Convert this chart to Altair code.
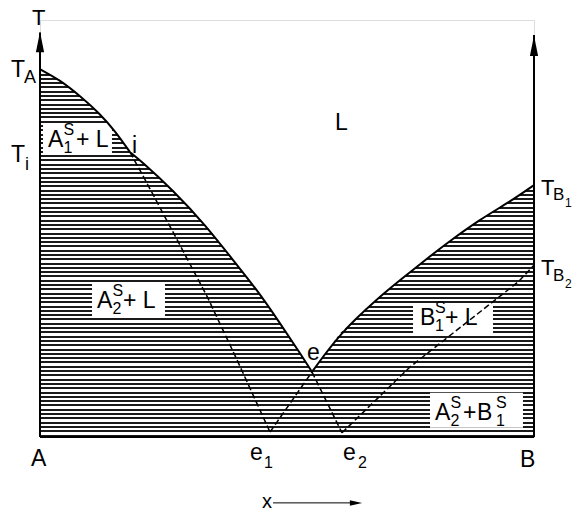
import altair as alt
import pandas as pd

# ---- phase-diagram data (x = mole fraction of B, T = temperature, arbitrary units) ----
# stable liquidus, three branches: T_A -> i (A1), i -> e (A2), e -> T_B1 (B1)
liq_seg = ["A1"] * 6 + ["A2"] * 9 + ["B1"] * 9
liq_x = [0.0, 0.0405, 0.081, 0.1215, 0.1518, 0.1822,
         0.1822, 0.2024, 0.2692, 0.3381, 0.3907, 0.4393, 0.4858, 0.5263, 0.5506,
         0.5506, 0.6073, 0.6842, 0.7287, 0.7955, 0.8239, 0.8907, 0.9514, 1.0]
liq_T = [88.2, 85.6, 81.8, 77.5, 73.4, 68.3,
         68.3, 66.4, 59.2, 50.4, 42.4, 35.3, 27.3, 20.1, 15.6,
         15.6, 24.9, 33.3, 37.6, 43.9, 46.5, 52.2, 56.4, 60.4]

# metastable branches (dashed)
meta_seg = ["i-e1"] * 6 + ["e1-e"] * 2 + ["e-e2"] * 2 + ["e2-TB2"] * 4
meta_x = [0.1822, 0.2132, 0.2780, 0.3387, 0.3988, 0.4656,
          0.4656, 0.5506,
          0.5506, 0.6113,
          0.6113, 0.7490, 0.9680, 1.0]
meta_T = [68.3, 61.6, 47.2, 33.6, 18.5, 1.2,
          1.2, 15.6,
          15.6, 1.0,
          1.0, 16.8, 37.2, 41.2]

# label pieces: text, x, T (baseline), font size
lab_text = ["A", "S", "1", "+ L",
            "A", "S", "2", "+ L",
            "B", "S", "1", "+ L",
            "A", "S", "2", "+", "B", "S", "1",
            "L", "e", "i",
            "e", "1", "e", "2",
            "T", "A", "T", "i", "T",
            "A", "B",
            "T", "B", "1", "T", "B", "2",
            "x"]
lab_x = [0.0162, 0.0476, 0.0476, 0.0729,
         0.1154, 0.1468, 0.1468, 0.1680,
         0.7692, 0.7997, 0.7997, 0.8198,
         0.7996, 0.8310, 0.8310, 0.8563, 0.8846, 0.9231, 0.9231,
         0.5972, 0.5405, 0.1862,
         0.4251, 0.4534, 0.6134, 0.6437,
         -0.0587, -0.0324, -0.0587, -0.0303, -0.0162,
         -0.0182, 0.9717,
         1.0142, 1.0385, 1.0628, 1.0142, 1.0385, 1.0628,
         0.4494]
lab_T = [69.5, 72.4, 68.1, 69.5,
         30.9, 33.8, 29.5, 30.9,
         26.9, 29.7, 25.4, 26.9,
         4.1, 7.0, 2.6, 4.1, 4.1, 7.0, 2.6,
         73.6, 18.5, 68.1,
         -5.5, -7.4, -5.5, -7.4,
         86.3, 84.9, 65.9, 64.0, 98.8,
         -7.0, -7.2,
         58.0, 56.8, 55.2, 38.8, 37.4, 35.7,
         -17.0]
lab_size = [23, 16, 16, 23,
            23, 16, 16, 23,
            23, 16, 16, 23,
            23, 16, 16, 23, 23, 16, 16,
            23, 23, 23,
            23, 16, 23, 16,
            23, 18, 23, 18, 22,
            23, 23,
            22, 17, 12, 22, 17, 12,
            20]

# white boxes behind the region labels
box_x = [0.0061, 0.1053, 0.7551, 0.7895]
box_x2 = [0.1457, 0.2530, 0.9170, 0.9777]
box_T = [75.3, 37.2, 32.1, 10.6]
box_T2 = [67.6, 28.8, 24.5, 2.2]

liq = pd.DataFrame({"seg": liq_seg, "x": liq_x, "T": liq_T,
                    "ord": list(range(len(liq_x)))})
meta = pd.DataFrame({"seg": meta_seg, "x": meta_x, "T": meta_T,
                     "ord": list(range(len(meta_x)))})
labels = pd.DataFrame({"text": lab_text, "x": lab_x, "T": lab_T, "fs": lab_size})
boxes = pd.DataFrame({"x": box_x, "x2": box_x2, "T": box_T, "T2": box_T2})

xs = alt.Scale(domain=[0, 1], nice=False, zero=False)
ys = alt.Scale(domain=[0, 100], nice=False, zero=False)
X = alt.X("x:Q", scale=xs, axis=None)
Y = alt.Y("T:Q", scale=ys, axis=None)

# horizontal hatching of the region below the liquidus as a striped gradient
bbox_px = 368.0   # height of the hatched area in pixels
period, thick = 4.3, 2.0
stops = []
k = 0
while k * period < bbox_px:
    a = k * period / bbox_px
    b = min((k * period + thick) / bbox_px, 1.0)
    c = min((k + 1) * period / bbox_px, 1.0)
    stops += [alt.GradientStop(offset=a, color="#1a1a1a"),
              alt.GradientStop(offset=b, color="#1a1a1a"),
              alt.GradientStop(offset=b, color="white"),
              alt.GradientStop(offset=c, color="white")]
    k += 1
hatch = alt.Gradient(gradient="linear", stops=stops, x1=0, x2=0, y1=0, y2=1)

# the hatched area is one polygon (one gradient box) under all three branches
area_df = liq.drop_duplicates(subset=["x", "T"])[["x", "T"]]
area = alt.Chart(area_df).mark_area(color=hatch, interpolate="linear").encode(
    x=X, y=Y, y2=alt.datum(0))

white = alt.Chart(boxes).mark_rect(color="white").encode(
    x=X, x2="x2:Q", y=Y, y2="T2:Q")

liquidus = alt.Chart(liq).mark_line(color="black", strokeWidth=2,
                                    interpolate="basis").encode(
    x=X, y=Y, detail="seg:N", order="ord:Q")

dashed = alt.Chart(meta).mark_line(color="black", strokeWidth=1.5,
                                   strokeDash=[6, 3]).encode(
    x=X, y=Y, detail="seg:N", order="ord:Q")

# axes: two temperature axes with arrows and the composition baseline
axes_df = pd.DataFrame({"x": [0.0, 1.0, 0.0], "x2": [0.0, 1.0, 1.0],
                        "T": [0.0, 0.0, 0.0], "T2": [97.0, 96.4, 0.0]})
axes = alt.Chart(axes_df).mark_rule(color="black", strokeWidth=2).encode(
    x=X, x2="x2:Q", y=Y, y2="T2:Q")

up_arrow = "M0,-1 L-0.4,1 L0.4,1 Z"
heads = alt.Chart(pd.DataFrame({"x": [0.0, 1.0], "T": [94.7, 93.8]})).mark_point(
    shape=up_arrow, filled=True, color="black", size=420, opacity=1).encode(x=X, y=Y)

x_arrow = alt.Chart(pd.DataFrame({"x": [0.4717], "x2": [0.6300], "T": [-15.8]})).mark_rule(
    color="black", strokeWidth=1).encode(x=X, x2="x2:Q", y=Y)
x_head = alt.Chart(pd.DataFrame({"x": [0.6397], "T": [-15.8]})).mark_point(
    shape="M1,0 L-1,-0.45 L-1,0.45 Z", filled=True, color="black", size=150,
    opacity=1).encode(x=X, y=Y)

text = alt.Chart(labels).mark_text(align="left", baseline="alphabetic",
                                   font="Liberation Sans", color="black").encode(
    x=X, y=Y, text="text:N", size=alt.Size("fs:Q", scale=None, legend=None))

chart = alt.layer(area, white, liquidus, dashed, axes, heads, x_arrow, x_head, text).properties(
    width=494, height=417,
    padding={"left": 40, "top": 20, "right": 40, "bottom": 76},
    autosize=alt.AutoSizeParams(type="none"),
).configure_view(stroke=None).configure(background="white")

chart.save("out.html", embed_options={"renderer": "svg", "actions": False})
